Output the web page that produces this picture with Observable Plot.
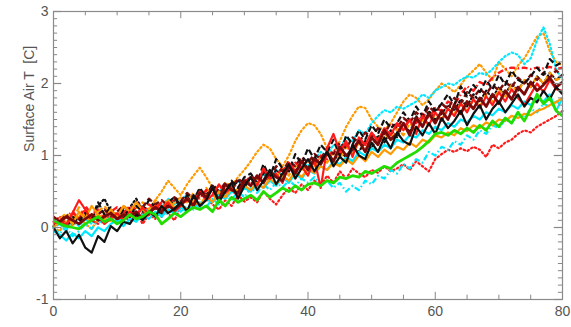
<!DOCTYPE html>
<html><head><meta charset="utf-8">
<script src="https://cdn.jsdelivr.net/npm/d3@7"></script>
<script src="https://cdn.jsdelivr.net/npm/@observablehq/plot@0.6"></script>
<style>body{margin:0;background:#fff}</style>
</head><body><div id="chart"></div>
<script>
const years = d3.range(0, 81);
const xTicks = [0, 20, 40, 60, 80];
const xMinorTicks = [5, 10, 15, 25, 30, 35, 45, 50, 55, 65, 70, 75];
const yTicks = [-1, 0, 1, 2, 3];
const yTickLabels = ["-1", "0", "1", "2", "3"];
const yTitle = "Surface Air T  [C]";

const blackSolid = [0.00,-0.15,-0.05,-0.22,-0.10,-0.28,-0.35,-0.12,-0.20,0.02,-0.05,
 0.08,0.05,0.18,0.10,0.22,0.15,0.30,0.20,0.26,0.35,
 0.22,0.45,0.30,0.38,0.55,0.35,0.50,0.62,0.40,0.58,
 0.70,0.52,0.65,0.80,0.60,0.75,0.88,0.68,0.82,0.95,
 0.78,0.92,1.05,0.85,0.98,0.90,1.15,1.00,0.95,1.18,
 1.05,1.25,1.10,1.32,1.20,1.15,1.40,1.28,1.45,1.30,
 1.52,1.38,1.48,1.62,1.42,1.58,1.70,1.50,1.65,1.75,
 1.60,1.72,1.85,1.68,1.80,1.74,1.90,1.78,1.95,1.85];
const blackDashed = [0.05,0.10,0.02,0.15,0.08,0.20,0.12,0.35,0.18,0.28,0.10,
 0.25,0.15,0.30,0.22,0.38,0.28,0.20,0.35,0.42,0.30,
 0.45,0.38,0.55,0.42,0.60,0.50,0.48,0.65,0.55,0.70,
 0.75,0.62,0.88,0.70,0.95,0.82,0.78,1.02,0.88,1.10,
 0.95,1.15,1.05,1.22,1.00,1.28,1.15,1.35,1.22,1.42,
 1.30,1.50,1.38,1.45,1.60,1.48,1.68,1.55,1.75,1.62,
 1.72,1.85,1.70,1.96,1.82,1.98,1.88,2.05,1.92,2.12,
 1.98,2.18,2.05,2.00,2.10,2.22,2.12,2.34,2.25,2.30];
const blackDotted = [0.02,0.08,0.00,0.12,0.05,0.18,0.10,0.30,0.40,0.22,0.18,
 0.12,0.28,0.40,0.25,0.20,0.32,0.15,0.28,0.38,0.30,
 0.42,0.35,0.48,0.40,0.58,0.45,0.60,0.52,0.66,0.55,
 0.70,0.60,0.75,0.65,0.80,0.72,0.88,0.78,0.92,0.82,
 0.98,0.88,1.02,0.92,1.05,0.98,1.12,1.05,1.20,1.10,
 1.28,1.18,1.35,1.25,1.45,1.32,1.55,1.40,1.62,1.50,
 1.58,1.70,1.62,1.78,1.68,1.85,1.75,1.90,1.80,1.95,
 1.85,2.00,1.90,2.05,1.95,2.10,2.00,2.15,2.05,2.12];
const redSolid = [0.05,0.10,0.02,0.20,0.38,0.25,0.10,0.15,0.05,0.12,0.20,
 0.10,0.22,0.15,0.28,0.18,0.30,0.25,0.35,0.22,0.30,
 0.40,0.32,0.50,0.38,0.45,0.60,0.48,0.55,0.42,0.62,
 0.70,0.58,0.82,0.68,0.75,0.62,0.90,0.78,0.85,0.72,
 0.95,0.55,1.10,1.30,1.05,1.20,0.98,1.25,1.15,1.32,
 1.20,1.38,1.28,1.45,1.35,1.50,1.30,1.55,1.42,1.60,
 1.48,1.65,1.55,1.72,1.60,1.78,1.66,1.82,1.70,1.88,
 1.75,1.92,1.80,1.70,1.85,2.00,1.88,2.05,1.92,1.90];
const redDashDot = [0.10,0.05,0.15,0.22,0.12,0.30,0.18,0.25,0.15,0.22,0.28,
 0.20,0.30,0.25,0.18,0.32,0.26,0.35,0.28,0.40,0.32,
 0.38,0.45,0.40,0.52,0.46,0.58,0.50,0.62,0.55,0.68,
 0.60,0.72,0.66,0.78,0.70,0.84,0.78,0.90,0.82,0.95,
 0.88,1.00,0.95,1.08,1.02,1.15,1.08,1.22,1.15,1.28,
 1.22,1.35,1.30,1.42,1.38,1.50,1.45,1.58,1.52,1.66,
 1.62,1.75,1.70,1.85,1.96,1.90,2.02,1.98,2.08,2.15,
 2.20,2.22,2.21,2.22,2.20,2.22,2.21,2.23,2.20,2.22];
const redDotted = [0.08,0.15,0.05,0.20,0.12,0.25,0.10,0.05,0.18,0.12,0.08,
 0.15,0.10,0.22,0.05,0.18,0.12,0.25,0.20,0.10,0.28,
 0.22,0.35,0.28,0.40,0.32,0.25,0.38,0.30,0.45,0.36,
 0.42,0.35,0.50,0.40,0.32,0.45,0.55,0.48,0.60,0.52,
 0.65,0.58,0.72,0.62,0.78,0.68,0.82,0.75,0.70,0.80,
 0.76,0.85,0.78,0.82,0.88,0.80,0.92,0.85,0.78,0.95,
 1.02,1.08,1.05,1.10,1.06,1.12,1.08,0.98,1.15,1.10,
 1.18,1.22,1.30,1.35,1.32,1.40,1.45,1.50,1.55,1.62];
const orangeSolid = [0.00,0.08,0.15,0.05,0.22,0.12,0.30,0.18,0.10,0.25,0.15,
 0.30,0.22,0.35,0.25,0.18,0.30,0.22,0.38,0.28,0.32,
 0.25,0.38,0.30,0.45,0.35,0.50,0.42,0.55,0.48,0.58,
 0.52,0.62,0.55,0.68,0.60,0.72,0.65,0.78,0.70,0.82,
 0.76,0.85,0.80,0.90,0.85,0.95,0.88,1.00,0.92,1.05,
 0.98,1.08,1.02,1.12,1.08,1.18,1.12,1.22,1.18,1.28,
 1.25,1.32,1.28,1.38,1.34,1.42,1.38,1.46,1.42,1.50,
 1.48,1.55,1.52,1.58,1.56,1.62,1.65,1.70,1.74,1.80];
const orangeDotted = [0.00,-0.05,0.10,0.02,0.15,0.05,-0.02,0.12,0.20,0.08,0.18,
 0.10,0.25,0.15,0.30,0.20,0.38,0.50,0.65,0.55,0.45,
 0.60,0.72,0.83,0.70,0.55,0.48,0.62,0.58,0.70,0.80,
 0.92,1.05,1.15,1.10,0.95,0.85,1.00,1.20,1.35,1.45,
 1.42,1.30,1.10,1.03,1.20,1.40,1.55,1.68,1.66,1.50,
 1.40,1.35,1.45,1.60,1.75,1.85,1.80,1.70,1.78,1.90,
 2.00,1.95,1.88,1.98,2.10,2.18,2.27,2.15,2.05,2.30,
 2.20,2.10,2.25,2.35,2.50,2.65,2.70,2.45,2.30,2.25];
const orangeDashed = [0.05,0.12,0.20,0.10,0.28,0.15,0.08,0.22,0.30,0.18,0.12,
 0.22,0.15,0.28,0.35,0.25,0.38,0.30,0.22,0.35,0.42,
 0.35,0.48,0.40,0.55,0.45,0.38,0.52,0.60,0.50,0.65,
 0.58,0.70,0.62,0.75,0.68,0.82,0.72,0.88,0.78,0.92,
 0.85,0.98,0.90,1.05,0.95,1.12,1.02,1.18,1.08,1.25,
 1.15,1.30,1.22,1.38,1.28,1.45,1.35,1.50,1.42,1.58,
 1.50,1.65,1.58,1.72,1.62,1.78,1.68,1.85,1.75,1.92,
 1.82,1.98,1.88,2.05,1.95,2.10,2.00,2.15,2.05,2.08];
const cyanSolid = [-0.05,-0.10,-0.18,-0.08,-0.15,-0.05,-0.12,0.00,-0.05,0.05,0.10,
 0.02,0.12,0.08,0.18,0.12,0.22,0.15,0.25,0.20,0.28,
 0.22,0.32,0.28,0.40,0.35,0.45,0.40,0.50,0.45,0.55,
 0.50,0.60,0.55,0.65,0.58,0.70,0.62,0.75,0.68,0.80,
 0.75,0.85,0.80,0.92,0.88,0.98,0.92,1.05,1.00,1.10,
 1.05,1.15,1.10,1.22,1.18,1.28,1.25,1.35,1.30,1.40,
 1.35,1.45,1.40,1.50,1.46,1.55,1.50,1.60,1.56,1.65,
 1.60,1.70,1.65,1.75,1.70,1.80,1.75,1.85,1.62,1.80];
const cyanDotted = [0.00,0.05,-0.05,0.08,0.02,0.12,0.05,0.15,0.08,0.20,0.12,
 0.18,0.25,0.15,0.30,0.22,0.35,0.28,0.40,0.32,0.38,
 0.45,0.38,0.50,0.42,0.55,0.48,0.60,0.52,0.65,0.58,
 0.70,0.62,0.75,0.68,0.80,0.72,0.85,0.78,0.90,0.85,
 0.95,1.05,1.00,1.15,1.10,1.25,1.20,1.35,1.30,1.45,
 1.55,1.63,1.60,1.68,1.65,1.70,1.75,1.85,1.80,1.90,
 1.95,2.00,1.98,2.05,2.10,2.08,2.15,2.12,2.20,2.30,
 2.38,2.43,2.40,2.27,2.35,2.60,2.78,2.55,2.20,2.05];
const cyanDashDot = [-0.02,-0.08,0.00,-0.12,-0.05,0.05,-0.02,0.10,0.05,0.15,0.08,
 0.12,0.05,0.18,0.10,0.22,0.15,0.25,0.18,0.28,0.22,
 0.30,0.25,0.35,0.28,0.40,0.32,0.45,0.38,0.50,0.42,
 0.55,0.48,0.60,0.52,0.62,0.56,0.65,0.58,0.68,0.62,
 0.70,0.60,0.65,0.55,0.62,0.50,0.58,0.52,0.65,0.60,
 0.72,0.68,0.80,0.75,0.88,0.82,0.95,0.90,1.05,1.00,
 1.12,1.08,1.20,1.15,1.28,1.22,1.35,1.30,1.42,1.38,
 1.50,1.45,1.58,1.52,1.65,1.60,1.72,1.68,1.75,1.70];
const greenSolid = [0.10,0.05,0.02,0.00,-0.02,0.05,0.10,0.15,0.08,0.12,0.05,
 0.10,0.18,0.12,0.15,0.22,0.18,0.05,0.12,0.20,0.15,
 0.22,0.28,0.25,0.30,0.22,0.38,0.30,0.42,0.35,0.40,
 0.45,0.38,0.50,0.42,0.48,0.55,0.50,0.58,0.52,0.60,
 0.62,0.58,0.65,0.62,0.70,0.68,0.72,0.70,0.78,0.75,
 0.80,0.85,0.82,0.90,0.95,1.00,1.05,1.12,1.20,1.30,
 1.32,1.28,1.35,1.30,1.38,1.32,1.42,1.35,1.48,1.40,
 1.52,1.45,1.60,1.48,1.65,1.85,1.72,1.80,1.62,1.55];
const maroonSolid = [0.12,0.08,0.15,0.10,0.05,0.12,0.18,0.10,0.15,0.20,0.12,
 0.18,0.15,0.22,0.12,0.20,0.28,0.22,0.30,0.25,0.32,
 0.40,0.30,0.48,0.42,0.55,0.38,0.60,0.52,0.48,0.65,
 0.58,0.72,0.62,0.78,0.70,0.65,0.85,0.75,0.92,0.80,
 0.95,0.88,1.05,0.92,1.12,1.00,1.08,1.20,1.05,1.25,
 1.15,1.35,1.22,1.30,1.45,1.28,1.52,1.40,1.58,1.45,
 1.62,1.50,1.70,1.58,1.75,1.65,1.80,1.68,1.85,1.72,
 1.90,1.78,1.95,1.85,2.02,1.90,1.98,2.08,1.95,2.02];
const maroonDashed = [0.15,0.08,0.18,0.05,0.12,0.20,0.10,0.18,0.25,0.15,0.22,
 0.30,0.22,0.35,0.28,0.40,0.32,0.38,0.30,0.42,0.36,
 0.48,0.40,0.52,0.45,0.58,0.50,0.62,0.55,0.68,0.60,
 0.72,0.65,0.78,0.70,0.85,0.78,0.92,0.85,0.98,0.90,
 1.02,0.95,1.10,1.02,1.18,1.10,1.25,1.18,1.32,1.25,
 1.38,1.30,1.45,1.38,1.52,1.45,1.60,1.52,1.68,1.60,
 1.72,1.65,1.80,1.72,1.88,1.80,1.92,1.85,1.98,1.90,
 2.02,1.95,2.08,2.00,2.12,2.05,2.15,2.08,2.18,2.10];

// drawing styles (kept separate from data)
const DOT = "1.5,2.8", DASH = "6,3", DASHDOT = "6,2.5,1.5,2.5";
const styles = [
  {values: orangeDotted, stroke: "#ff9a00", dash: DOT, w: 2.2},
  {values: cyanDotted, stroke: "#00e8ff", dash: DOT, w: 2.2},
  {values: redDotted, stroke: "#ff1a1a", dash: DOT, w: 2.2},
  {values: blackDotted, stroke: "#111", dash: DOT, w: 2.2},
  {values: cyanDashDot, stroke: "#00e8ff", dash: DASHDOT, w: 2.2},
  {values: orangeDashed, stroke: "#ff9a00", dash: DASH, w: 2.2},
  {values: redDashDot, stroke: "#ff1a1a", dash: DASHDOT, w: 2.4},
  {values: maroonDashed, stroke: "#7a0a0a", dash: DASH, w: 2.4},
  {values: blackDashed, stroke: "#111", dash: DASH, w: 2.2},
  {values: cyanSolid, stroke: "#00e8ff", dash: null, w: 2.2},
  {values: orangeSolid, stroke: "#ff9a00", dash: null, w: 2.2},
  {values: redSolid, stroke: "#ff1a1a", dash: null, w: 2.2},
  {values: maroonSolid, stroke: "#7a0a0a", dash: null, w: 2.8},
  {values: blackSolid, stroke: "#111", dash: null, w: 2.2},
  {values: greenSolid, stroke: "#22dd00", dash: null, w: 2.8}
];

const yMinor = d3.range(-10, 31).map(d => d / 10);
const tickColor = "#888";

const marks = [];
for (const s of styles) {
  const rows = years.map((x, i) => ({x, y: s.values[i]}));
  marks.push(Plot.line(rows, {x: "x", y: "y", stroke: s.stroke, strokeWidth: s.w,
    strokeDasharray: s.dash, strokeLinejoin: "round", strokeLinecap: s.dash === DOT ? "round" : "butt"}));
}
// inward ticks
marks.push(
  Plot.ruleY(yMinor, {x1: 0, x2: 0.65, stroke: tickColor, strokeWidth: 1}),
  Plot.ruleY(yTicks, {x1: 0, x2: 1.3, stroke: tickColor, strokeWidth: 1.2}),
  Plot.ruleY(yMinor, {x1: 80, x2: 79.35, stroke: tickColor, strokeWidth: 1}),
  Plot.ruleY(yTicks, {x1: 80, x2: 78.7, stroke: tickColor, strokeWidth: 1.2}),
  Plot.ruleX(xMinorTicks, {y1: -1, y2: -0.94, stroke: tickColor}),
  Plot.ruleX(xTicks, {y1: -1, y2: -0.9, stroke: tickColor}),
  Plot.ruleX(xMinorTicks, {y1: 3, y2: 2.94, stroke: tickColor}),
  Plot.ruleX(xTicks, {y1: 3, y2: 2.9, stroke: tickColor}),
  Plot.frame({stroke: "#8a8a8a", strokeWidth: 1.2}),
  Plot.axisX({ticks: xTicks, tickSize: 0, tickPadding: 7, label: null, fontSize: 14}),
  Plot.axisY({ticks: yTicks, tickFormat: (d) => yTickLabels[yTicks.indexOf(d)], tickSize: 0, tickPadding: 5, label: null, fontSize: 14}),
  Plot.text([{t: yTitle, y: 1.05}], {text: "t", y: "y", frameAnchor: "left", rotate: -90, dx: -24, fontSize: 14, fill: "#555"})
);

const chart = Plot.plot({
  width: 571,
  height: 327,
  marginLeft: 53,
  marginRight: 9,
  marginTop: 11,
  marginBottom: 28,
  x: {domain: [0, 80]},
  y: {domain: [-1, 3]},
  style: {background: "#fff", color: "#555", fontFamily: "'Liberation Sans Narrow', 'Liberation Sans', Arial, sans-serif", fontSize: "14px"},
  marks
});
document.getElementById("chart").appendChild(chart);
</script>
</body></html>
